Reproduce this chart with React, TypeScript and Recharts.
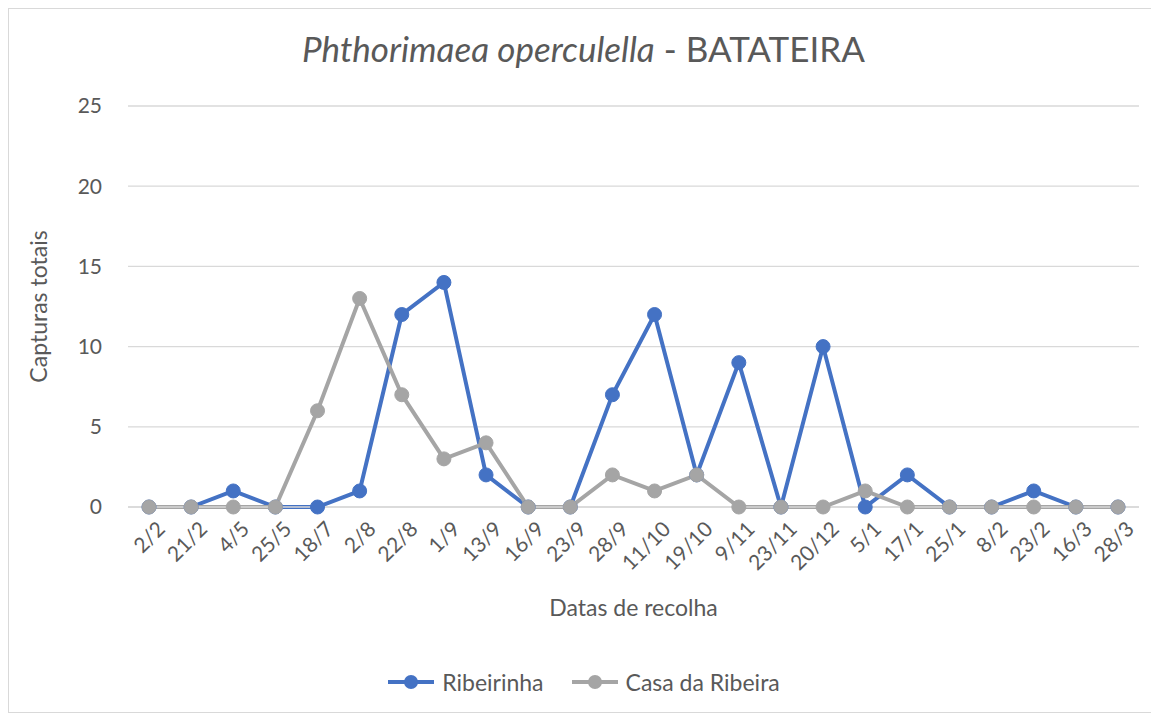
import React from 'react';
import { LineChart, Line, XAxis, YAxis, CartesianGrid, Legend, Label } from 'recharts';

const dates = [
  '2/2', '21/2', '4/5', '25/5', '18/7', '2/8', '22/8', '1/9', '13/9', '16/9', '23/9', '28/9',
  '11/10', '19/10', '9/11', '23/11', '20/12', '5/1', '17/1', '25/1', '8/2', '23/2', '16/3', '28/3',
];
const ribeirinha = [0, 0, 1, 0, 0, 1, 12, 14, 2, 0, 0, 7, 12, 2, 9, 0, 10, 0, 2, 0, 0, 1, 0, 0];
const casaRibeira = [0, 0, 0, 0, 6, 13, 7, 3, 4, 0, 0, 2, 1, 2, 0, 0, 0, 1, 0, 0, 0, 0, 0, 0];
const yTicks = [0, 5, 10, 15, 20, 25];

const data = dates.map((d, i) => ({ name: d, rib: ribeirinha[i], casa: casaRibeira[i] }));

const BLUE = '#4472C4';
const GRAY = '#A5A5A5';
const TEXT = '#595959';
const FONT = 'Lato, "Open Sans", sans-serif';

const XTick = (props: any) => {
  const { x, y, payload } = props;
  return (
    <g transform={`translate(${x + 7},${y + 5})`}>
      <text x={0} y={0} dy="0.7em" textAnchor="end" transform="rotate(-45)" fill={TEXT} fontSize={21} fontFamily={FONT}>
        {payload.value}
      </text>
    </g>
  );
};

const LegendContent = () => {
  const items = [
    { label: 'Ribeirinha', color: BLUE },
    { label: 'Casa da Ribeira', color: GRAY },
  ];
  return (
    <div style={{ display: 'flex', justifyContent: 'center', gap: 26, fontFamily: FONT, fontSize: 23, color: TEXT, paddingLeft: 18 }}>
      {items.map((it) => (
        <div key={it.label} style={{ display: 'flex', alignItems: 'center' }}>
          <svg width={50} height={16} style={{ marginRight: 6 }}>
            <line x1={2} y1={8} x2={48} y2={8} stroke={it.color} strokeWidth={4} />
            <circle cx={25} cy={8} r={7} fill={it.color} />
          </svg>
          <span>{it.label}</span>
        </div>
      ))}
    </div>
  );
};

export default function App() {
  return (
    <div style={{ position: 'relative', width: 1151, height: 705, border: '1px solid #d9d9d9', boxSizing: 'border-box', background: '#fff' }}>
      <div
        style={{
          position: 'absolute', top: 18, left: 0, width: '100%', textAlign: 'center',
          fontFamily: FONT, fontSize: 35, color: TEXT, pointerEvents: 'none',
        }}
      >
        <i>Phthorimaea operculella</i> - BATATEIRA
      </div>
      <LineChart width={1149} height={703} data={data} margin={{ top: 97, right: 19, bottom: 0, left: 0 }}>
        <CartesianGrid vertical={false} stroke="#d9d9d9" strokeWidth={1.3} />
        <XAxis
          dataKey="name"
          interval={0}
          tick={<XTick />}
          tickLine={false}
          axisLine={{ stroke: '#d9d9d9', strokeWidth: 1.3 }}
          padding={{ left: 21, right: 21 }}
          height={161}
        >
          <Label value="Datas de recolha" position="insideBottom" offset={52} fill={TEXT} fontSize={23} fontFamily={FONT} />
        </XAxis>
        <YAxis
          domain={[0, 25]}
          ticks={yTicks}
          width={119}
          tickLine={false}
          axisLine={false}
          tickMargin={20}
          tick={{ fill: TEXT, fontSize: 21, fontFamily: FONT }}
        >
          <Label value="Capturas totais" angle={-90} position="insideLeft" offset={30} fill={TEXT} fontSize={23} fontFamily={FONT} style={{ textAnchor: 'middle' }} />
        </YAxis>
        <Legend verticalAlign="bottom" height={44} content={<LegendContent />} />
        <Line
          dataKey="rib"
          name="Ribeirinha"
          stroke={BLUE}
          strokeWidth={4}
          dot={{ r: 7, fill: BLUE, stroke: BLUE, strokeWidth: 1 }}
          isAnimationActive={false}
        />
        <Line
          dataKey="casa"
          name="Casa da Ribeira"
          stroke={GRAY}
          strokeWidth={4}
          dot={{ r: 7, fill: GRAY, stroke: GRAY, strokeWidth: 1 }}
          isAnimationActive={false}
        />
      </LineChart>
    </div>
  );
}
